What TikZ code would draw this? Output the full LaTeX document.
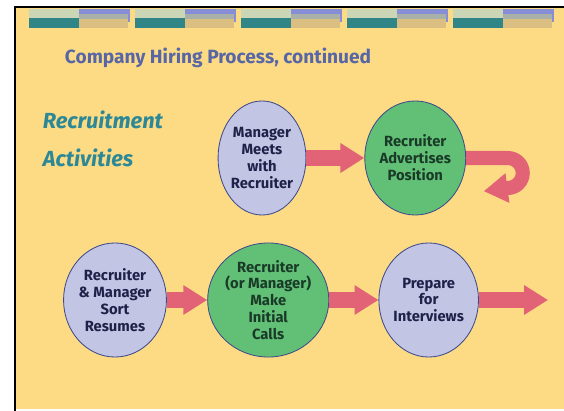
\documentclass[tikz,border=0pt]{standalone}
\usepackage{fontspec}
\setmainfont{Fira Sans}
\usetikzlibrary{arrows.meta,shapes.geometric}

\definecolor{slide}{RGB}{252,219,132}
\definecolor{lilac}{RGB}{194,197,228}
\definecolor{leaf}{RGB}{98,192,118}
\definecolor{rim}{RGB}{62,74,140}
\definecolor{salmon}{RGB}{226,98,118}
\definecolor{slate}{RGB}{88,102,166}
\definecolor{sea}{RGB}{44,136,150}
\definecolor{ink}{RGB}{30,34,72}
\definecolor{moss}{RGB}{26,58,40}
\definecolor{pale}{RGB}{202,214,182}
\definecolor{deep}{RGB}{48,134,134}
\definecolor{cornflower}{RGB}{136,142,214}
\definecolor{haze}{RGB}{168,176,168}
\definecolor{sand}{RGB}{218,190,130}

\tikzstyle{bubble} = [ellipse, draw=rim, semithick, fill=lilac, text=ink,
    minimum width=2.1cm, minimum height=2.85cm, inner sep=0pt, align=center,
    font=\bfseries\fontsize{10.5}{12}\selectfont]
\tikzstyle{gbubble} = [bubble, fill=leaf, text=moss]
\tikzstyle{fat} = [draw=salmon, line width=10.7pt,
    -{Triangle[width=20pt,length=17pt]}]

\begin{document}
\begin{tikzpicture}[x=0.025cm,y=-0.025cm,node distance=3.83cm]
  \useasboundingbox (0,0) rectangle (564,411);

  % slide
  \fill[white] (0,0) rectangle (564,411);
  \fill[slide] (15,7) rectangle (564,409);
  \draw[line width=1.5pt] (15,411) -- (15,7) -- (564,7);

  % banner tiles
  \foreach \x in {29,135,241,347,453} {
    \fill[pale] (\x,9) rectangle ++(50,9);
    \fill[deep] (\x,18) rectangle ++(50,10);
    \fill[cornflower] (\x+50,9) rectangle ++(51,5);
    \fill[haze] (\x+50,14) rectangle ++(49,5);
    \fill[sand] (\x+50,19) rectangle ++(49,9);
    \fill[cornflower] (\x+99,9) rectangle ++(2,13);
  }

  \node[anchor=west, text=slate, font=\bfseries\fontsize{13.6}{16}\selectfont]
    (title) at (60,58) {Company Hiring Process, continued};
  \node[anchor=west, text=sea, font=\bfseries\itshape\fontsize{15.5}{18}\selectfont]
    (rec) at (38,120) {Recruitment};
  \node[anchor=west, text=sea, font=\bfseries\itshape\fontsize{15.5}{18}\selectfont]
    (act) at (38,158) {Activities};

  % top row
  \node[bubble]  (mgr) at (262,158)  {Manager\\Meets\\with\\Recruiter};
  \node[gbubble] (adv) [right of=mgr] {Recruiter\\Advertises\\Position};

  % bottom row
  \node[bubble]  (sort)  at (115,300)   {Recruiter\\\& Manager\\Sort\\Resumes};
  \node[gbubble] (calls) [right of=sort] {Recruiter\\(or Manager)\\Make\\Initial\\Calls};
  \node[bubble]  (prep)  [right of=calls,xshift=0.18cm] {Prepare\\for\\Interviews};
  \coordinate (tail) at (548,300);

  \draw[fat] (mgr) -- (adv);
  \draw[fat, line width=10pt] (adv.east) -- ++(1.04cm,0)
    arc[start angle=90, end angle=-90, radius=0.375cm] -- ++(-0.6cm,-0.08cm);
  \draw[fat] (sort) -- (calls);
  \draw[fat] (calls) -- (prep);
  \draw[fat] (prep) -- (tail);
\end{tikzpicture}
\end{document}
